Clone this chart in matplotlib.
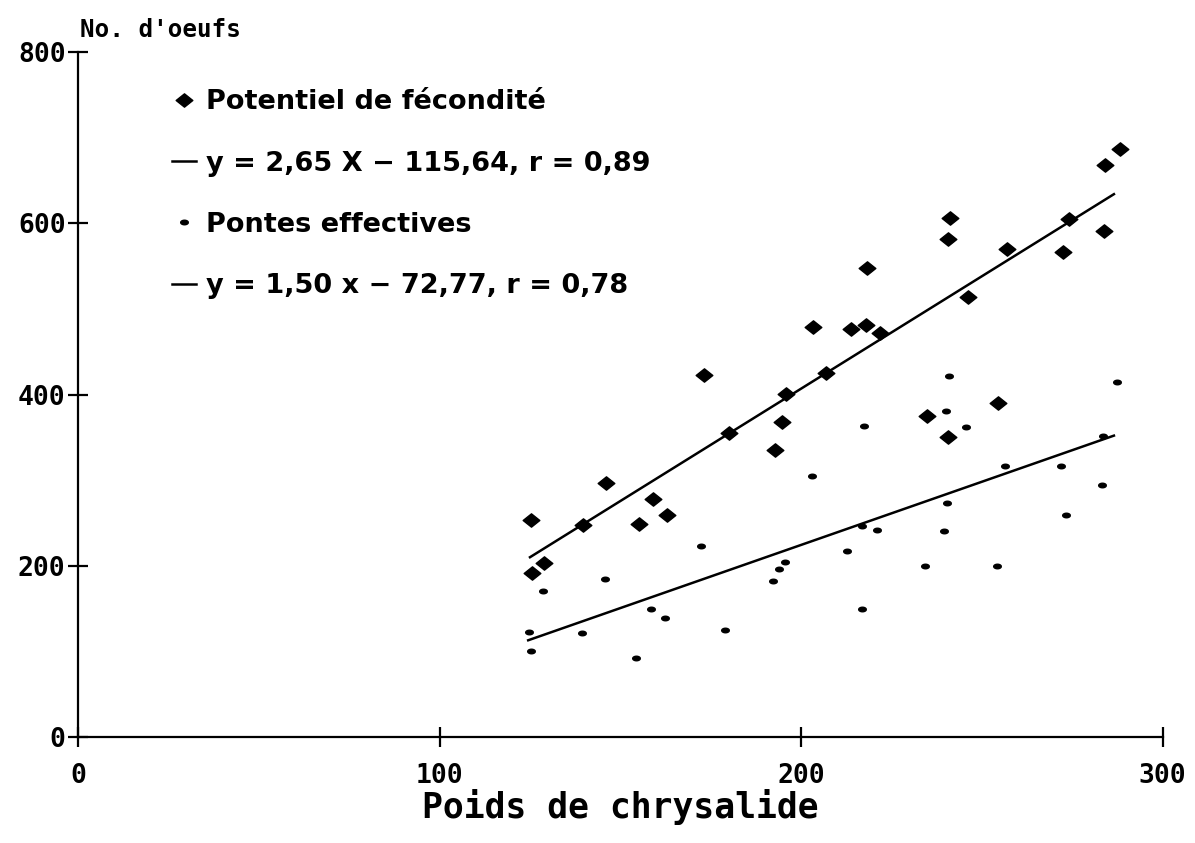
import numpy as np
import matplotlib.pyplot as plt
from matplotlib.path import Path

# Potentiel de fécondité (losanges)
poids_pot = [125.2, 125.5, 128.8, 139.6, 146.0, 155.1, 159.0, 162.8, 173.1, 180.0,
             192.7, 194.6, 195.7, 203.2, 206.8, 213.7, 217.9, 218.1, 221.7, 234.7,
             240.5, 240.5, 241.1, 246.1, 254.4, 256.8, 272.3, 274.0, 283.7, 283.9, 288.1]
oeufs_pot = [254, 192, 203, 248, 297, 249, 278, 259, 423, 355,
             335, 368, 401, 479, 425, 476, 481, 548, 472, 375,
             350, 582, 606, 514, 390, 570, 567, 605, 591, 668, 687]

# Pontes effectives (points)
poids_pont = [124.7, 125.2, 128.6, 139.3, 145.7, 154.3, 158.4, 162.3, 172.2, 178.9,
              192.1, 193.8, 195.5, 202.9, 212.6, 216.8, 216.8, 217.3, 220.9, 234.2,
              239.4, 240.0, 240.3, 240.8, 245.5, 254.1, 256.3, 272.0, 273.2, 283.1,
              283.4, 287.3]
oeufs_pont = [123, 100, 171, 122, 185, 92, 150, 139, 223, 125,
              182, 196, 204, 305, 217, 150, 247, 363, 242, 200,
              241, 381, 273, 422, 362, 200, 317, 317, 259, 294,
              351, 415]

# droites de régression, telles que tracées
droite1_x = [125, 286.5]
droite1_y = [210, 634]
droite2_x = [124.5, 286.5]
droite2_y = [113, 352]

etiquettes = ['Potentiel de fécondité',
              'y = 2,65 X \u2212 115,64, r = 0,89',
              'Pontes effectives',
              'y = 1,50 x \u2212 72,77, r = 0,78']

plt.rcParams['font.family'] = 'DejaVu Sans'

# marqueurs
losange = Path([(-1, 0), (0, 0.8), (1, 0), (0, -0.8), (-1, 0)],
               [Path.MOVETO, Path.LINETO, Path.LINETO, Path.LINETO, Path.CLOSEPOLY])
t = np.linspace(0, 2 * np.pi, 30)
ellipse = Path(np.column_stack([np.cos(t), 0.6 * np.sin(t)]))

fig = plt.figure(figsize=(11.95, 8.43), dpi=100)
ax = fig.add_axes([0.0653, 0.1257, 0.9077, 0.8126])

h1, = ax.plot(poids_pot, oeufs_pot, linestyle='none', marker=losange,
              markersize=12, color='black')
h3, = ax.plot(poids_pont, oeufs_pont, linestyle='none', marker=ellipse,
              markersize=5.5, color='black')
h2, = ax.plot(droite1_x, droite1_y, color='black', lw=1.8)
h4, = ax.plot(droite2_x, droite2_y, color='black', lw=1.8)

ax.set_xlim(0, 300)
ax.set_ylim(0, 800)
ax.set_xticks([0, 100, 200, 300])
ax.set_yticks([0, 200, 400, 600, 800])
for s in ['top', 'right']:
    ax.spines[s].set_visible(False)
for s in ['left', 'bottom']:
    ax.spines[s].set_linewidth(1.6)
ax.tick_params(axis='both', direction='inout', length=14, width=1.6)
ax.tick_params(axis='x', pad=12)
ax.tick_params(axis='y', pad=2)
for lab in ax.get_xticklabels() + ax.get_yticklabels():
    lab.set_fontfamily('DejaVu Sans Mono')
    lab.set_fontweight('bold')
    lab.set_fontsize(19)

ax.set_xlabel('Poids de chrysalide', fontfamily='DejaVu Sans Mono',
              fontweight='bold', fontsize=25, labelpad=0)
fig.text(0.067, 0.965, "No. d'oeufs", fontfamily='DejaVu Sans Mono',
         fontweight='bold', fontsize=17.5, va='center', ha='left')

ax.legend([h1, h2, h3, h4], etiquettes,
          loc='upper left', bbox_to_anchor=(0.144, 0.894),
          bbox_transform=fig.transFigure,
          frameon=False, fontsize=19.5, handlelength=0.9, handletextpad=0.35,
          labelspacing=1.3, borderpad=0, borderaxespad=0)
for txt in ax.get_legend().get_texts():
    txt.set_fontweight('bold')

fig.savefig('out.png', dpi=100)
